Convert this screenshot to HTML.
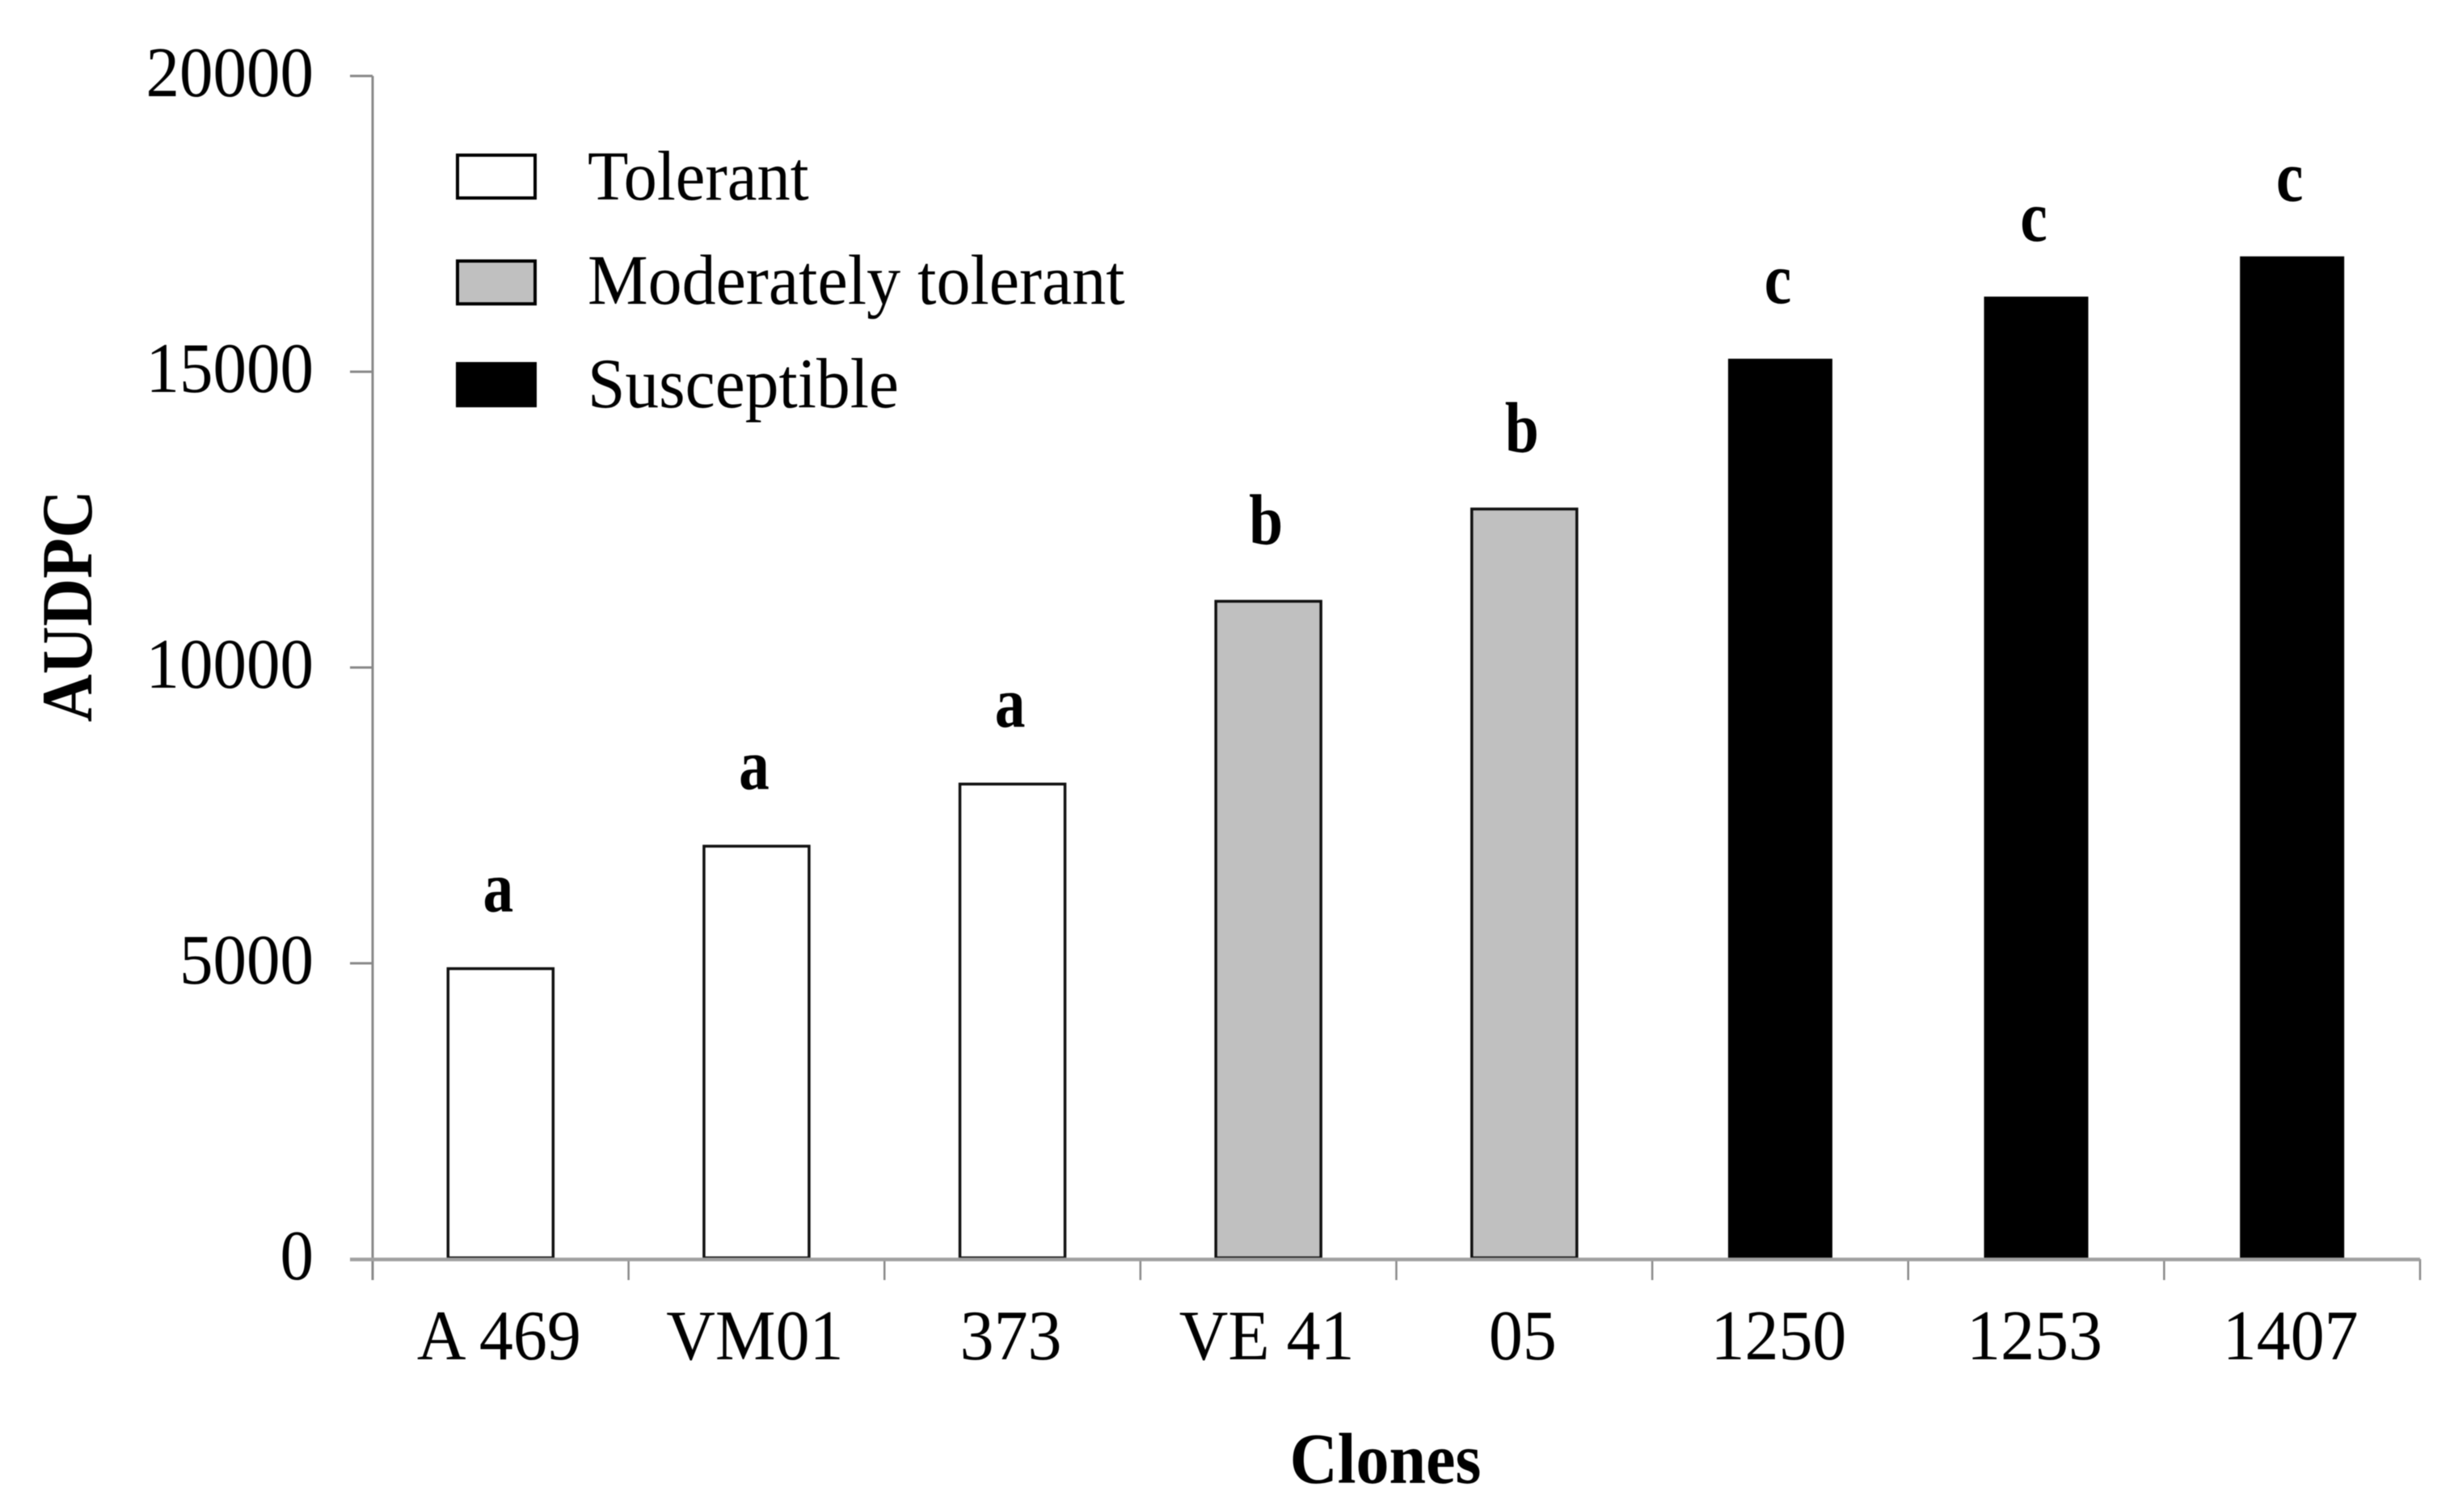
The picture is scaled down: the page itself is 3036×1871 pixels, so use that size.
<!DOCTYPE html>
<html lang="en">
<head>
<meta charset="utf-8">
<title>AUDPC by clone</title>
<style>
html,body{margin:0;padding:0;background:#fff;}
svg{display:block;}
text{font-family:"Liberation Serif",serif;fill:#000;}
.bold{font-weight:bold;}
</style>
</head>
<body>
<svg id="chart" xmlns="http://www.w3.org/2000/svg" width="3036" height="1871" viewBox="0 0 3036 1871">
  <rect x="0" y="0" width="3036" height="1871" fill="#fff"/>
  <g id="bars" style="filter:blur(.6px)"></g>
  <g id="axes" style="filter:blur(.6px)"></g>
  <g id="labels" style="filter:blur(.5px)"></g>
  <text class="bold" font-size="82" text-anchor="middle" transform="translate(113,750) rotate(-90) scale(1,1.08)" style="filter:blur(.5px)">AUDPC</text>
  <text class="bold" font-size="82" text-anchor="middle" transform="translate(1714,1835) scale(1,1.08)" style="filter:blur(.5px)">Clones</text>
  <g style="filter:blur(.5px)">
    <rect x="566" y="192" width="96" height="53" fill="#fff" stroke="#000" stroke-width="4"/>
    <text font-size="82.5" transform="translate(727,247) scale(1,1.05)">Tolerant</text>
    <rect x="566" y="323" width="96" height="53" fill="#c0c0c0" stroke="#000" stroke-width="4"/>
    <text font-size="84" transform="translate(727,376) scale(1,1.05)">Moderately tolerant</text>
    <rect x="564" y="448" width="100" height="56" fill="#000"/>
    <text font-size="83.5" transform="translate(727,504) scale(1,1.05)">Susceptible</text>
  </g>
</svg>
<script>
const categories = ["A 469", "VM01", "373", "VE 41", "05", "1250", "1253", "1407"];
const audpcValues = [4930, 7000, 8050, 11140, 12700, 15220, 16270, 16950];
const tolerance = ["tolerant", "tolerant", "tolerant", "moderate", "moderate", "susceptible", "susceptible", "susceptible"];
const significance = ["a", "a", "a", "b", "b", "c", "c", "c"];
const yTicks = [0, 5000, 10000, 15000, 20000];

const NS = "http://www.w3.org/2000/svg";
const plotLeft = 461, plotRight = 2994, plotBase = 1558, plotTop = 94, yMax = 20000;
const step = (plotRight - plotLeft) / categories.length;
function xBand(i) { return plotLeft + step * i; }
function xCenter(i) { return xBand(i) + step / 2; }
function yScale(v) { return plotBase - (v / yMax) * (plotBase - plotTop); }

const barsG = document.getElementById("bars");
const axesG = document.getElementById("axes");
const labelsG = document.getElementById("labels");

categories.forEach(function (name, i) {
  const cx = xCenter(i);
  const top = yScale(audpcValues[i]);
  const key = name.toLowerCase().replace(/\s+/g, "-");
  const bar = document.createElementNS(NS, "rect");
  
  
  if (tolerance[i] === "susceptible") {
    bar.setAttribute("x", cx - 64.5);
    bar.setAttribute("y", top);
    bar.setAttribute("width", 129);
    bar.setAttribute("height", plotBase - top);
    bar.setAttribute("fill", "#000");
  } else {
    bar.setAttribute("x", cx - 65);
    bar.setAttribute("y", top + 1.5);
    bar.setAttribute("width", 130);
    bar.setAttribute("height", plotBase - top - 3);
    bar.setAttribute("fill", tolerance[i] === "moderate" ? "#c0c0c0" : "#fff");
    bar.setAttribute("stroke", "#111");
    bar.setAttribute("stroke-width", "3.5");
  }
  barsG.appendChild(bar);

  const letter = document.createElementNS(NS, "text");
  
  
  letter.setAttribute("class", "bold");
  letter.setAttribute("font-size", "82");
  letter.setAttribute("text-anchor", "middle");
  letter.setAttribute("transform", "translate(" + (cx - 3) + "," + (top - 69) + ") scale(.92,1.08)");
  letter.textContent = significance[i];
  labelsG.appendChild(letter);

  const label = document.createElementNS(NS, "text");
  
  
  label.setAttribute("font-size", "84");
  label.setAttribute("text-anchor", "middle");
  label.setAttribute("transform", "translate(" + (cx - 2) + ",1682) scale(1,1.05)");
  label.textContent = name;
  labelsG.appendChild(label);
});

for (let i = 0; i <= categories.length; i++) {
  const tick = document.createElementNS(NS, "line");
  
  
  tick.setAttribute("x1", xBand(i));
  tick.setAttribute("x2", xBand(i));
  tick.setAttribute("y1", plotBase);
  tick.setAttribute("y2", 1584);
  tick.setAttribute("stroke", "#8a8a8a");
  tick.setAttribute("stroke-width", "2.5");
  axesG.appendChild(tick);
}

yTicks.forEach(function (v) {
  const y = yScale(v);
  const tick = document.createElementNS(NS, "line");
  
  
  tick.setAttribute("x1", 433);
  tick.setAttribute("x2", plotLeft);
  tick.setAttribute("y1", y);
  tick.setAttribute("y2", y);
  tick.setAttribute("stroke", "#8a8a8a");
  tick.setAttribute("stroke-width", "3");
  axesG.appendChild(tick);

  const label = document.createElementNS(NS, "text");
  
  
  label.setAttribute("font-size", "83");
  label.setAttribute("text-anchor", "end");
  label.setAttribute("transform", "translate(388," + (y + 25) + ") scale(1,1.06)");
  label.textContent = String(v);
  labelsG.appendChild(label);
});

const yAxis = document.createElementNS(NS, "line");


yAxis.setAttribute("x1", plotLeft);
yAxis.setAttribute("x2", plotLeft);
yAxis.setAttribute("y1", plotTop);
yAxis.setAttribute("y2", 1584);
yAxis.setAttribute("stroke", "#8a8a8a");
yAxis.setAttribute("stroke-width", "3");
axesG.appendChild(yAxis);

const xAxis = document.createElementNS(NS, "line");


xAxis.setAttribute("x1", 433);
xAxis.setAttribute("x2", plotRight);
xAxis.setAttribute("y1", plotBase + .5);
xAxis.setAttribute("y2", plotBase + .5);
xAxis.setAttribute("stroke", "#a0a0a0");
xAxis.setAttribute("stroke-width", "4.5");
axesG.appendChild(xAxis);
</script>
</body>
</html>
